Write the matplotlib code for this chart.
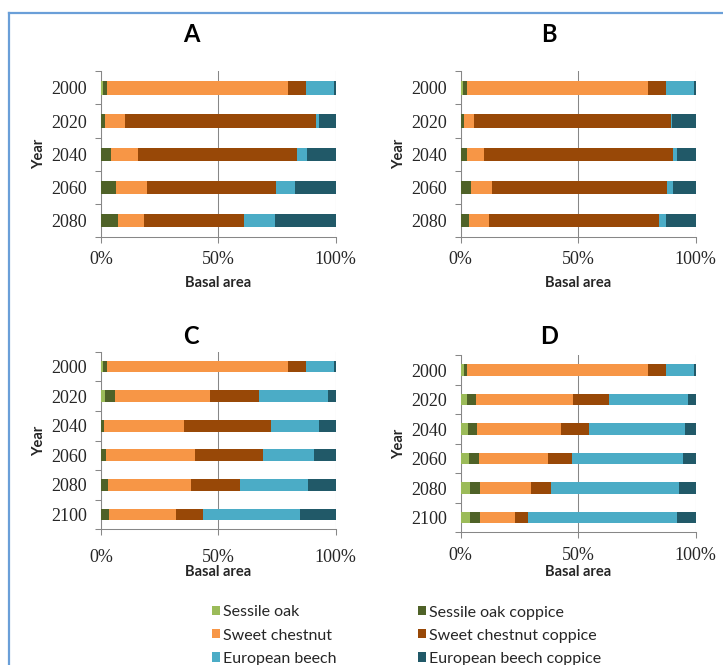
import numpy as np
import matplotlib
matplotlib.use("Agg")
import matplotlib.pyplot as plt
from matplotlib.patches import Patch
from matplotlib.lines import Line2D

# ---- data: share of basal area (%) per species group, by year ----
species = ["Sessile oak", "Sessile oak coppice", "Sweet chestnut",
           "Sweet chestnut coppice", "European beech", "European beech coppice"]
colors = ["#9BBB59", "#4F6228", "#F79646", "#984807", "#4BACC6", "#215968"]

years_ab = ["2000", "2020", "2040", "2060", "2080"]
years_cd = ["2000", "2020", "2040", "2060", "2080", "2100"]

# Scenario A
a_sessile_oak = [1.0, 0.0, 0.0, 0.0, 0.0]
a_sessile_oak_coppice = [1.4, 1.7, 4.4, 6.6, 7.1]
a_sweet_chestnut = [77.4, 8.5, 11.5, 13.1, 11.3]
a_sweet_chestnut_coppice = [7.8, 81.3, 67.5, 55.1, 42.6]
a_european_beech = [11.8, 1.6, 4.4, 7.8, 13.1]
a_european_beech_coppice = [0.6, 6.9, 12.2, 17.4, 25.9]

# Scenario B
b_sessile_oak = [1.1, 0.0, 0.0, 0.0, 0.0]
b_sessile_oak_coppice = [1.4, 1.3, 2.8, 4.3, 3.4]
b_sweet_chestnut = [77.1, 4.5, 7.1, 8.9, 8.5]
b_sweet_chestnut_coppice = [7.7, 83.7, 80.5, 74.6, 72.4]
b_european_beech = [11.9, 0.6, 1.7, 2.4, 3.0]
b_european_beech_coppice = [0.8, 9.9, 7.9, 9.8, 12.7]

# Scenario C
c_sessile_oak = [1.0, 1.7, 0.0, 0.0, 0.0, 0.0]
c_sessile_oak_coppice = [1.4, 4.1, 1.4, 2.1, 3.0, 3.4]
c_sweet_chestnut = [77.4, 40.5, 33.8, 38.0, 35.2, 28.6]
c_sweet_chestnut_coppice = [7.8, 21.2, 37.2, 28.9, 21.1, 11.3]
c_european_beech = [11.8, 29.3, 20.5, 21.7, 29.1, 41.7]
c_european_beech_coppice = [0.6, 3.2, 7.1, 9.3, 11.6, 15.0]

# Scenario D
d_sessile_oak = [1.6, 2.8, 3.0, 3.4, 3.8, 3.8]
d_sessile_oak_coppice = [1.0, 3.8, 4.1, 4.5, 4.5, 4.5]
d_sweet_chestnut = [77.1, 41.2, 35.5, 29.4, 21.6, 14.6]
d_sweet_chestnut_coppice = [7.7, 15.1, 12.1, 10.1, 8.5, 5.7]
d_european_beech = [11.9, 33.8, 40.8, 47.2, 54.7, 63.6]
d_european_beech_coppice = [0.7, 3.3, 4.5, 5.4, 6.9, 7.8]

x_ticks = [0, 50, 100]
x_ticklabels = ["0%", "50%", "100%"]

# ---- layout (pixel based) ----
W, H = 723, 665
DPI = 100
fig = plt.figure(figsize=(W / DPI, H / DPI), dpi=DPI)
fig.patch.set_facecolor("white")

SANS = "Lato"
SERIF = "Liberation Serif"
GRID = "#878787"
INK = "#262626"


def px_axes(left, top, right, bottom):
    return fig.add_axes([left / W, 1 - bottom / H, (right - left) / W, (bottom - top) / H])


def fig_text(x, y, s, **kw):
    fig.text(x / W, 1 - y / H, s, **kw)


panels = [
    dict(name="A", years=years_ab, box=(101, 71.3, 335.5, 237.3), title=(191, 35),
         ylab=39, xlab=283, xpad=6.0,
         series=[a_sessile_oak, a_sessile_oak_coppice, a_sweet_chestnut,
                 a_sweet_chestnut_coppice, a_european_beech, a_european_beech_coppice]),
    dict(name="B", years=years_ab, box=(460.7, 71.3, 695.7, 237.3), title=(549, 35),
         ylab=399, xlab=283, xpad=6.0,
         series=[b_sessile_oak, b_sessile_oak_coppice, b_sweet_chestnut,
                 b_sweet_chestnut_coppice, b_european_beech, b_european_beech_coppice]),
    dict(name="C", years=years_cd, box=(101, 351.7, 335.5, 529.3), title=(191, 337),
         ylab=39, xlab=571.7, xpad=10.0,
         series=[c_sessile_oak, c_sessile_oak_coppice, c_sweet_chestnut,
                 c_sweet_chestnut_coppice, c_european_beech, c_european_beech_coppice]),
    dict(name="D", years=years_cd, box=(460.7, 355.3, 695.7, 532.3), title=(549, 337),
         ylab=399, xlab=571.7, xpad=6.8,
         series=[d_sessile_oak, d_sessile_oak_coppice, d_sweet_chestnut,
                 d_sweet_chestnut_coppice, d_european_beech, d_european_beech_coppice]),
]

for p in panels:
    ax = px_axes(*p["box"])
    n = len(p["years"])
    y = np.arange(n)
    left = np.zeros(n)
    for vals, col in zip(p["series"], colors):
        vals = np.asarray(vals, dtype=float)
        ax.barh(y, vals, left=left, height=0.4, color=col, linewidth=0, zorder=3)
        left += vals

    ax.set_xlim(0, 100)
    ax.set_ylim(n - 0.5, -0.5)
    ax.set_axisbelow(True)

    ax.set_xticks(x_ticks)
    ax.set_xticklabels(x_ticklabels, fontfamily=SERIF, fontsize=13)
    ax.set_yticks(y)
    ax.set_yticklabels(p["years"], fontfamily=SERIF, fontsize=13)
    ax.set_yticks(np.arange(n + 1) - 0.5, minor=True)

    ax.tick_params(axis="x", which="major", length=4, width=0.75, color=GRID,
                   direction="out", pad=p["xpad"], labelcolor=INK)
    ax.tick_params(axis="y", which="major", length=0, pad=10, labelcolor=INK)
    ax.tick_params(axis="y", which="minor", length=4, width=0.75, color=GRID,
                   direction="out")

    ax.grid(axis="x", color=GRID, linewidth=0.75)
    for side in ("top", "right"):
        ax.spines[side].set_visible(False)
    for side in ("left", "bottom"):
        ax.spines[side].set_color(GRID)
        ax.spines[side].set_linewidth(0.75)

    cy = (p["box"][1] + p["box"][3]) / 2
    cx = (p["box"][0] + p["box"][2]) / 2
    fig_text(p["title"][0], p["title"][1], p["name"], fontfamily=SANS,
             fontweight="bold", fontsize=17, ha="center", va="center", color="black")
    fig_text(p["ylab"], cy, "Year", fontfamily=SANS, fontweight="bold",
             fontsize=10.5, rotation=90, ha="center", va="center", color=INK)
    fig_text(cx, p["xlab"], "Basal area", fontfamily=SANS, fontweight="bold",
             fontsize=10.5, ha="center", va="center", color=INK)

# ---- legend (column-major: plain stands left, coppice right) ----
order = [0, 2, 4, 1, 3, 5]
handles = [Patch(facecolor=colors[i], edgecolor="none") for i in order]
labels = [species[i] for i in order]
leg = fig.legend(handles, labels, ncol=2, frameon=False,
                 loc="upper left", bbox_to_anchor=(212 / W, 1 - 605.5 / H),
                 prop={"family": SANS, "size": 11.5},
                 handlelength=0.5, handleheight=0.5, handletextpad=0.2,
                 columnspacing=5.1, labelspacing=0.57, borderpad=0, borderaxespad=0)
for t in leg.get_texts():
    t.set_color(INK)

# ---- blue frame along the top and left edges ----
frame = "#6A9FD8"
fig.add_artist(Line2D([9 / W, 1], [1 - 13 / H, 1 - 13 / H], color=frame,
                      linewidth=1.6, transform=fig.transFigure))
fig.add_artist(Line2D([9 / W, 9 / W], [1 - 13 / H, 0], color=frame,
                      linewidth=1.6, transform=fig.transFigure))

fig.savefig("out.png", dpi=DPI, facecolor="white")
